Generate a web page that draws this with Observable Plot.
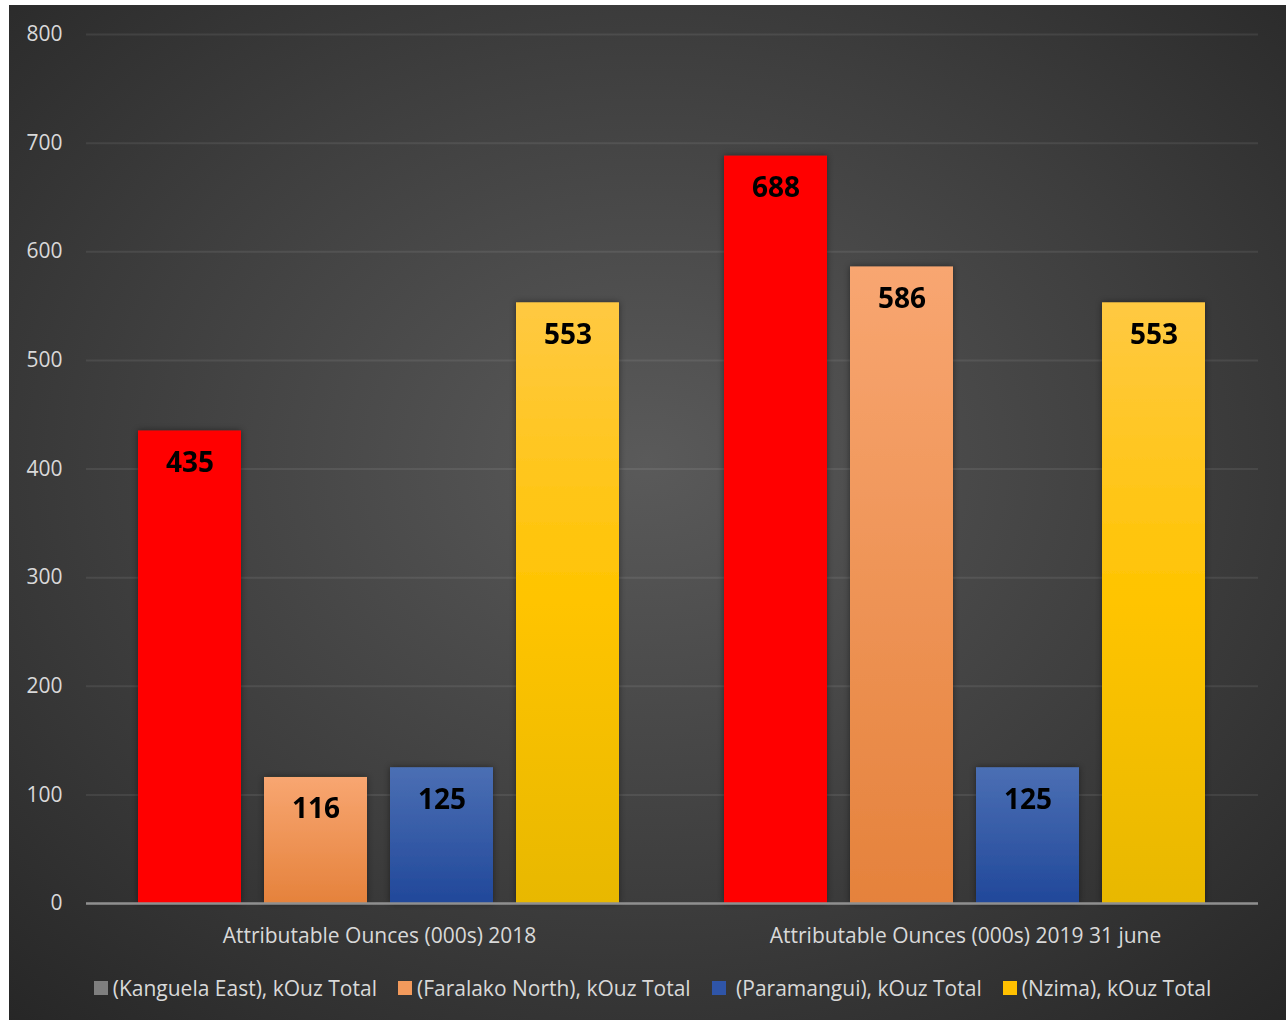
<!DOCTYPE html>
<html>
<head>
<meta charset="utf-8">
<script src="https://cdn.jsdelivr.net/npm/d3@7"></script>
<script src="https://cdn.jsdelivr.net/npm/@observablehq/plot@0.6"></script>
<style>
  html, body { margin: 0; padding: 0; background: #ffffff; }
  #frame {
    position: absolute; left: 9px; top: 5px; width: 1277px; height: 1015px;
    background: radial-gradient(ellipse 75% 75% at 50% 45%, #5a5a5a 0%, #3e3e3e 55%, #262626 100%);
    overflow: hidden;
    font-family: "Open Sans", sans-serif;
  }
  #chart svg { display: block; }
  #legend {
    position: absolute; left: 10px; top: 969px; width: 1267px;
    display: flex; justify-content: center; align-items: center; gap: 21px;
    color: #d9d9d9; font-size: 21px; white-space: pre;
  }
  .item { display: flex; align-items: center; gap: 5px; }
  .sw { width: 14px; height: 14px; display: inline-block; }
</style>
</head>
<body>
<div id="frame">
  <div id="chart"></div>
  <div id="legend"></div>
</div>
<script>
const groups = ["Attributable Ounces (000s) 2018", "Attributable Ounces (000s) 2019 31 june"];
const series = ["(Kanguela East), kOuz Total", "(Faralako North), kOuz Total", "(Paramangui), kOuz Total", "(Nzima), kOuz Total"];
const values2018 = [435, 116, 125, 553];
const values2019 = [688, 586, 125, 553];
const yTicks = [0, 100, 200, 300, 400, 500, 600, 700, 800];
const legendLabels = ["(Kanguela East), kOuz Total", "(Faralako North), kOuz Total", " (Paramangui), kOuz Total", "(Nzima), kOuz Total"];
const legendSwatches = ["#7f7f7f", "#f39a5c", "#2f55a8", "#ffc000"];

const rows = [];
series.forEach((s, i) => rows.push({group: groups[0], series: s, value: values2018[i]}));
series.forEach((s, i) => rows.push({group: groups[1], series: s, value: values2019[i]}));

const NS = "http://www.w3.org/2000/svg";
function defsMark() {
  const defs = document.createElementNS(NS, "defs");
  const grads = [
    ["gOrange", [["0%", "#f8a671"], ["100%", "#e5823c"]]],
    ["gBlue", [["0%", "#4b6fb4"], ["100%", "#21489a"]]],
    ["gYellow", [["0%", "#ffc942"], ["50%", "#ffc400"], ["100%", "#e8b800"]]]
  ];
  for (const [id, stops] of grads) {
    const lg = document.createElementNS(NS, "linearGradient");
    lg.setAttribute("id", id);
    lg.setAttribute("x1", "0"); lg.setAttribute("y1", "0");
    lg.setAttribute("x2", "0"); lg.setAttribute("y2", "1");
    for (const [off, col] of stops) {
      const st = document.createElementNS(NS, "stop");
      st.setAttribute("offset", off);
      st.setAttribute("stop-color", col);
      lg.appendChild(st);
    }
    defs.appendChild(lg);
  }
  const f = document.createElementNS(NS, "filter");
  f.setAttribute("id", "shadow");
  f.setAttribute("x", "-20%"); f.setAttribute("y", "-20%");
  f.setAttribute("width", "140%"); f.setAttribute("height", "140%");
  const ds = document.createElementNS(NS, "feDropShadow");
  ds.setAttribute("dx", "0"); ds.setAttribute("dy", "0");
  ds.setAttribute("stdDeviation", "3");
  ds.setAttribute("flood-color", "#000"); ds.setAttribute("flood-opacity", "0.45");
  f.appendChild(ds);
  defs.appendChild(f);
  return defs;
}

const chart = Plot.plot({
  width: 1277,
  height: 950,
  marginLeft: 76,
  marginRight: 28,
  marginTop: 29,
  marginBottom: 52,
  style: { background: "transparent", color: "#d9d9d9", fontFamily: "Open Sans, sans-serif", fontSize: "21px" },
  fx: { domain: groups, padding: 0, axis: "bottom", label: null, tickSize: 0, tickPadding: 25 },
  x: { domain: series, axis: null, paddingInner: 0.181, paddingOuter: 0.4 },
  y: { domain: [0, 800], ticks: yTicks, label: null, tickSize: 0, tickPadding: 24, grid: false },
  color: { domain: series, range: ["#ff0000", "url(#gOrange)", "url(#gBlue)", "url(#gYellow)"] },
  facet: { data: rows, x: "group" },
  marks: [
    defsMark,
    Plot.ruleY(yTicks, { stroke: "#ffffff", strokeOpacity: 0.08, strokeWidth: 2 }),
    Plot.barY(rows, { x: "series", y: "value", fill: "series" }),
    Plot.ruleY([0], { stroke: "#8f8f8f", strokeWidth: 2.5 }),
    Plot.text(rows, { x: "series", y: "value", text: d => String(d.value), dy: 32, fill: "#000000", fontWeight: "bold", fontSize: 28, fontFamily: "Open Sans, sans-serif" })
  ]
});
document.getElementById("chart").appendChild(chart);
chart.querySelectorAll('g[aria-label="bar"]').forEach(g => g.setAttribute("filter", "url(#shadow)"));

const legend = document.getElementById("legend");
legendLabels.forEach((lab, i) => {
  const it = document.createElement("div");
  it.className = "item";
  const sw = document.createElement("span");
  sw.className = "sw";
  sw.style.background = legendSwatches[i];
  const t = document.createElement("span");
  t.textContent = lab;
  it.appendChild(sw); it.appendChild(t);
  legend.appendChild(it);
});
</script>
</body>
</html>
